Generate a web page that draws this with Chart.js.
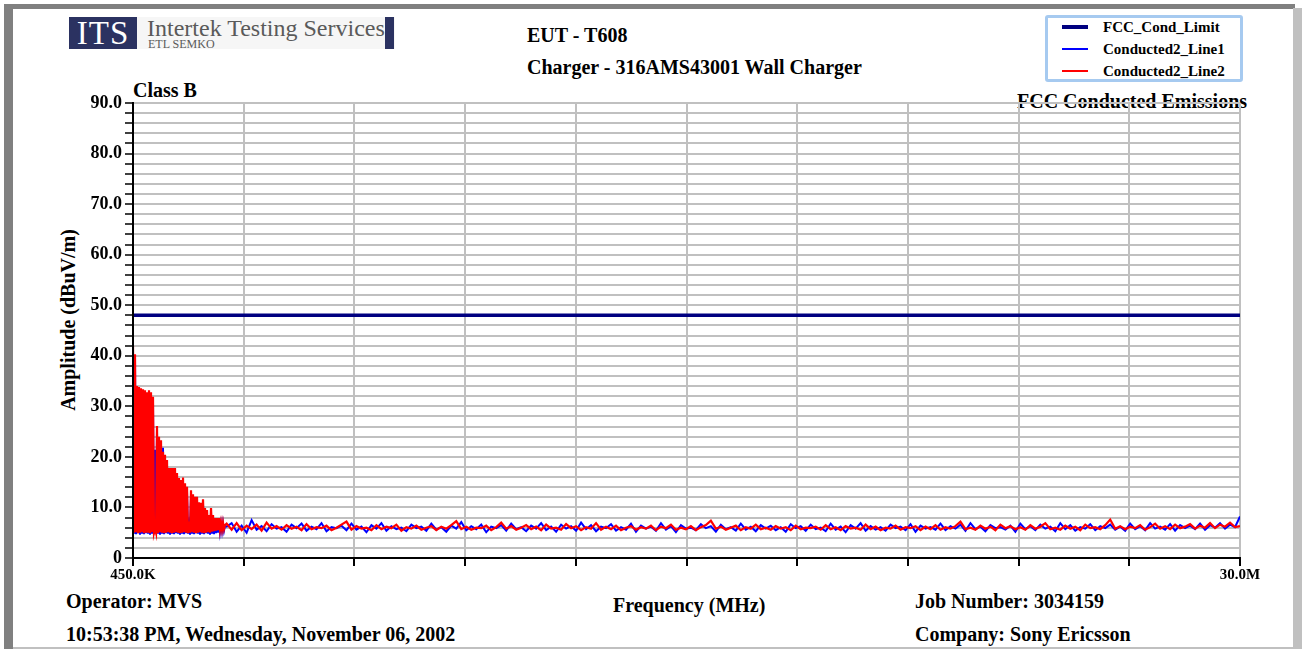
<!DOCTYPE html>
<html>
<head>
<meta charset="utf-8">
<script src="https://cdn.jsdelivr.net/npm/chart.js@4.4.0/dist/chart.umd.min.js"></script>
<style>
  html, body { margin: 0; padding: 0; background: #fff; }
  #page { position: relative; width: 1302px; height: 652px; overflow: hidden; font-family: "Liberation Serif", "Times New Roman", serif; font-weight: bold; color: #000; }
  .t { position: absolute; white-space: nowrap; font-size: 20px; line-height: 20px; }
  .frame { position: absolute; }
  #chart { position: absolute; left: 0; top: 0; }
  #legend { position: absolute; left: 1045px; top: 15px; width: 192px; height: 61px; border: 3px solid #a6caf0; border-radius: 3px; background: #fff; }
  .lg { position: absolute; left: 55px; font-size: 15px; line-height: 16px; }
  .sw { position: absolute; left: 14px; width: 26px; }
  #logo { position: absolute; left: 69px; top: 17px; width: 326px; height: 32px; background: #f6f6f6; }
</style>
</head>
<body>
<div id="page">
  <div class="frame" style="left:4px;top:4px;width:1291px;height:5px;background:#808080"></div>
  <div class="frame" style="left:4px;top:9px;width:9px;height:640px;background:#808080"></div>
  <div class="frame" style="left:1293px;top:8px;width:9px;height:641px;background:#c0c0c0"></div>
  <div class="frame" style="left:13px;top:647px;width:1280px;height:2px;background:#c0c0c0"></div>

  <div id="logo">
    <div style="position:absolute;left:0;top:0;width:68px;height:32px;background:#2b3261;color:#fff;font-weight:normal;font-size:33px;line-height:32px;text-align:center;letter-spacing:1px">ITS</div>
    <div style="position:absolute;left:78px;top:0;font-weight:normal;font-size:24px;line-height:22px;color:#5a5a5a;white-space:nowrap">Intertek Testing Services</div>
    <div style="position:absolute;left:79px;top:21px;font-weight:normal;font-size:12px;line-height:12px;color:#5a5a5a;white-space:nowrap">ETL SEMKO</div>
    <div style="position:absolute;left:316px;top:0;width:9px;height:32px;background:#2b3261"></div>
  </div>

  <div class="t" style="left:527px;top:25px">EUT - T608</div>
  <div class="t" style="left:527px;top:57px">Charger - 316AMS43001 Wall Charger</div>
  <div class="t" style="left:133px;top:80px">Class B</div>
  <div class="t" style="left:1017px;top:91px">FCC Conducted Emissions</div>
  <div class="t" style="left:68px;top:320px;transform:translate(-50%,-50%) rotate(-90deg)">Amplitude (dBuV/m)</div>
  <div class="t" style="left:66px;top:591px">Operator: MVS</div>
  <div class="t" style="left:613px;top:595px">Frequency (MHz)</div>
  <div class="t" style="left:915px;top:591px">Job Number: 3034159</div>
  <div class="t" style="left:66px;top:624px">10:53:38 PM, Wednesday, November 06, 2002</div>
  <div class="t" style="left:915px;top:624px">Company: Sony Ericsson</div>

  <div id="legend">
    <div class="sw" style="top:7px;height:4px;background:#000080"></div>
    <div class="lg" style="top:1px">FCC_Cond_Limit</div>
    <div class="sw" style="top:30px;height:2px;background:#0000ff"></div>
    <div class="lg" style="top:23px">Conducted2_Line1</div>
    <div class="sw" style="top:52px;height:2px;background:#ff0000"></div>
    <div class="lg" style="top:45px">Conducted2_Line2</div>
  </div>

  <canvas id="chart" width="1302" height="652"></canvas>
</div>

<script>
// sweep ranges (MHz)
const burstStartMHz = 0.45;
const burstStopMHz = 2.906;
const floorStartMHz = 2.95;
const floorStopMHz = 30.0;

// FCC limit line
const limitFreqs = [0.45, 30.0];
const limitAmps = [48.0, 48.0];

// axis ticks
const freqTicks = [0.45, 3.405, 6.36, 9.315, 12.27, 15.225, 18.18, 21.135, 24.09, 27.045, 30.0];
const freqTickLabels = ["450.0K", "", "", "", "", "", "", "", "", "", "30.0M"];
const ampTickLabels = ["0", "10.0", "20.0", "30.0", "40.0", "50.0", "60.0", "70.0", "80.0", "90.0"];

// Conducted2_Line2 (red), low band, peak / trough sweep
const line2Burst = [
  42.0, 5.0, 40.3, 5.1, 34.0, 4.9, 33.8, 5.0, 33.6, 5.1, 33.4, 4.9, 33.2, 5.0, 32.8, 5.0,
  33.2, 4.9, 32.8, 5.1, 31.9, 5.0, 5.8, 5.0, 26.1, 4.9, 24.0, 5.1, 23.3, 5.0, 21.0, 4.9,
  20.4, 5.0, 19.4, 5.1, 17.8, 5.0, 17.8, 4.9, 17.8, 5.0, 17.8, 5.1, 16.8, 5.0, 15.8, 4.9,
  15.4, 5.0, 15.9, 5.1, 14.8, 5.0, 14.1, 4.9, 7.2, 5.0, 13.4, 5.1, 12.6, 5.0, 12.1, 4.9,
  12.1, 5.0, 11.0, 5.1, 10.9, 5.0, 11.6, 4.9, 9.9, 5.0, 9.5, 5.1, 8.5, 5.0, 9.9, 5.2,
  8.5, 5.3, 7.9, 5.4, 7.9, 5.5, 7.9, 5.6, 7.0, 5.6, 7.0, 5.7, 6.5
];

// Conducted2_Line1 (blue), low band, peak / trough sweep
const line1Burst = [
  41.0, 4.8, 39.5, 4.7, 33.0, 4.9, 32.8, 4.6, 32.6, 4.8, 32.4, 4.7, 32.2, 4.9, 31.8, 4.8,
  32.2, 4.6, 31.8, 4.8, 30.9, 4.7, 21.4, 4.9, 25.1, 4.8, 23.0, 4.6, 22.3, 4.8, 21.8, 4.7,
  19.4, 4.9, 18.4, 4.8, 16.8, 4.6, 16.8, 4.8, 16.8, 4.7, 16.8, 4.9, 15.8, 4.8, 14.8, 4.6,
  14.4, 4.8, 14.9, 4.7, 13.8, 4.9, 13.1, 4.8, 6.5, 4.6, 12.4, 4.8, 11.6, 4.7, 11.1, 4.9,
  11.1, 4.8, 10.0, 4.6, 9.9, 4.8, 10.6, 4.7, 8.9, 4.9, 8.5, 4.8, 7.5, 4.6, 8.9, 4.8,
  7.5, 4.7, 7.2, 4.9, 7.3, 5.0, 7.4, 5.2, 6.8, 5.3, 6.9, 5.4, 6.4
];

// Conducted2_Line2 (red), noise floor 2.95 - 30 MHz
const line2Floor = [
  6.8, 5.6, 6.9, 5.5, 6.4, 5.7, 6.6, 5.4, 7.0, 5.8, 6.3, 5.6,
  6.5, 5.8, 6.2, 5.5, 6.7, 5.7, 6.1, 5.9, 6.4, 5.5, 6.0, 6.6,
  7.2, 5.6, 6.3, 5.8, 6.0, 5.5, 6.5, 5.7, 6.2, 5.9, 6.6, 5.4,
  6.1, 5.8, 6.4, 5.6, 6.0, 6.3, 5.5, 6.2, 5.8, 6.5, 7.3, 5.7,
  6.2, 5.6, 6.0, 5.9, 6.4, 5.5, 6.1, 7.0, 5.8, 6.3, 5.6, 6.0,
  6.5, 5.7, 6.2, 5.5, 6.6, 5.8, 6.0, 5.6, 6.7, 5.9, 6.3, 5.5,
  6.1, 5.8, 6.9, 5.6, 6.2, 5.7, 6.4, 5.5, 6.0, 6.3, 5.6, 6.1,
  5.8, 6.4, 5.5, 6.2, 5.9, 6.6, 5.6, 6.0, 5.7, 6.3, 5.5, 6.1,
  6.5, 7.4, 5.8, 6.2, 5.6, 6.0, 6.4, 5.5, 6.1, 5.8, 6.6, 5.7,
  6.0, 5.6, 6.3, 5.8, 6.1, 5.5, 6.4, 5.7, 6.0, 5.9, 6.2, 5.6,
  6.5, 5.7, 6.1, 5.5, 6.3, 5.8, 6.0, 5.6, 6.6, 5.7, 6.2, 5.5,
  6.0, 5.8, 6.4, 5.6, 6.1, 5.9, 6.3, 5.5, 6.2, 5.7, 6.5, 5.6,
  6.1, 5.8, 6.3, 7.2, 5.7, 6.0, 5.6, 6.4, 5.8, 6.2, 5.5, 6.6,
  5.9, 6.3, 5.7, 6.1, 5.6, 6.5, 5.8, 6.2, 6.9, 5.7, 6.0, 5.6,
  6.4, 5.8, 6.2, 5.5, 6.6, 5.9, 6.1, 5.7, 6.5, 7.6, 5.8, 6.3,
  5.7, 6.2, 5.9, 6.5, 5.6, 6.1, 6.8, 5.8, 6.3, 5.7, 6.6, 5.9,
  6.2, 6.7, 5.8, 6.4, 6.0, 6.9, 5.9, 6.6, 6.2, 7.0, 6.1, 6.3
];

// Conducted2_Line1 (blue), noise floor 2.95 - 30 MHz
const line1Floor = [
  6.2, 6.9, 5.2, 6.4, 5.0, 7.5, 5.6, 6.3, 5.3, 6.7, 5.8, 6.1,
  5.2, 6.6, 5.9, 6.8, 5.4, 6.2, 5.7, 6.9, 5.3, 6.1, 5.9, 6.4,
  5.5, 6.8, 5.6, 6.2, 5.1, 6.5, 5.8, 6.9, 5.4, 6.3, 5.7, 6.0,
  5.3, 6.6, 5.9, 6.2, 5.4, 6.8, 5.6, 6.1, 5.2, 6.4, 5.8, 7.1,
  5.5, 6.3, 5.7, 6.6, 5.1, 6.2, 5.9, 6.5, 5.4, 6.8, 5.7, 6.1,
  5.3, 6.4, 5.8, 6.9, 5.5, 6.2, 5.2, 6.6, 5.8, 6.3, 5.4, 7.0,
  5.7, 6.5, 5.3, 6.2, 5.9, 6.7, 5.4, 6.1, 5.6, 6.8, 5.2, 6.4,
  5.8, 6.2, 5.4, 6.9, 5.6, 6.3, 5.1, 6.5, 5.8, 6.0, 5.5, 6.7,
  5.9, 6.3, 5.2, 6.6, 5.7, 6.1, 5.4, 6.8, 5.6, 6.2, 5.3, 6.5,
  5.8, 6.4, 5.5, 6.1, 5.2, 6.7, 5.9, 6.3, 5.4, 6.6, 5.7, 6.0,
  5.3, 6.8, 5.6, 6.2, 5.1, 6.5, 5.8, 6.9, 5.4, 6.3, 5.6, 6.1,
  5.4, 6.6, 5.9, 6.2, 5.5, 6.7, 5.2, 6.4, 5.8, 6.1, 5.6, 6.8,
  5.5, 6.3, 5.8, 6.6, 5.4, 6.9, 5.7, 6.2, 5.3, 6.5, 5.9, 6.1,
  5.6, 6.4, 5.2, 6.8, 5.7, 6.3, 5.5, 6.6, 5.8, 6.2, 5.3, 6.9,
  5.7, 6.5, 5.4, 6.1, 5.8, 6.7, 5.5, 6.3, 5.9, 6.6, 5.6, 6.2,
  5.4, 6.8, 5.7, 6.3, 5.5, 6.9, 5.8, 6.2, 5.6, 6.7, 5.4, 6.5,
  5.9, 6.4, 5.7, 6.8, 5.6, 6.5, 6.0, 6.9, 5.8, 6.6, 6.1, 8.2
];

const COLORS = {
  limit: "#000080",
  line1: "#0000ff",
  line2: "#ff0000",
  grid: "#c0c0c0",
  axis: "#000000",
};

// evenly stepped analyzer sweep -> {x, y} points
function sweep(startMHz, stopMHz, amps) {
  const step = (stopMHz - startMHz) / (amps.length - 1);
  return amps.map((a, i) => ({ x: startMHz + i * step, y: a }));
}

const limitData = limitFreqs.map((f, i) => ({ x: f, y: limitAmps[i] }));
const line1Data = sweep(burstStartMHz, burstStopMHz, line1Burst).concat(sweep(floorStartMHz, floorStopMHz, line1Floor));
const line2Data = sweep(burstStartMHz, burstStopMHz, line2Burst).concat(sweep(floorStartMHz, floorStopMHz, line2Floor));

Chart.defaults.font.family = '"Liberation Serif", "Times New Roman", serif';
Chart.defaults.font.weight = "bold";
Chart.defaults.color = "#000";

new Chart(document.getElementById("chart").getContext("2d"), {
  type: "line",
  data: {
    datasets: [
      { label: "Conducted2_Line2", data: line2Data, borderColor: COLORS.line2, borderWidth: 2.2, order: 0 },
      { label: "Conducted2_Line1", data: line1Data, borderColor: COLORS.line1, borderWidth: 2, order: 1 },
      { label: "FCC_Cond_Limit", data: limitData, borderColor: COLORS.limit, borderWidth: 3.5, order: 2 },
    ],
  },
  options: {
    responsive: false,
    animation: false,
    devicePixelRatio: 1,
    layout: { padding: { left: 0, top: 103, right: 62, bottom: 64 } },
    elements: { point: { radius: 0 }, line: { tension: 0, borderJoinStyle: "miter" } },
    plugins: { legend: { display: false }, tooltip: { enabled: false } },
    scales: {
      x: {
        type: "linear",
        min: 0.45,
        max: 30.0,
        afterBuildTicks(scale) {
          scale.ticks = freqTicks.map((v) => ({ value: v }));
        },
        afterFit(scale) {
          scale.height = 30;
        },
        grid: { color: COLORS.grid, lineWidth: 2, tickColor: COLORS.axis, tickLength: 8, tickWidth: 2 },
        border: { color: COLORS.axis, width: 2, z: 1 },
        ticks: {
          autoSkip: false,
          maxRotation: 0,
          padding: 0,
          font: { size: 15, weight: "bold" },
          callback: (value, index) => freqTickLabels[index],
        },
      },
      y: {
        min: 0,
        max: 90,
        afterFit(scale) {
          scale.width = 133;
        },
        grid: { color: COLORS.grid, lineWidth: 2, tickColor: COLORS.axis, tickLength: 8, tickWidth: 1.5 },
        border: { color: COLORS.axis, width: 2, z: 1 },
        ticks: {
          stepSize: 2,
          autoSkip: false,
          padding: 3,
          font: { size: 18, weight: "bold" },
          callback: (value) => (value % 10 === 0 ? ampTickLabels[value / 10] : ""),
        },
      },
    },
  },
});
</script>
</body>
</html>
